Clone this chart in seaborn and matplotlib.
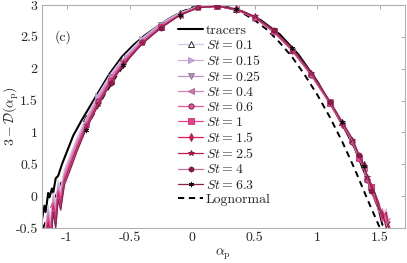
# Multifractal spectrum of particle concentration, panel (c)
import numpy as np
import pandas as pd
import matplotlib
matplotlib.use("Agg")
import matplotlib.pyplot as plt
import seaborn as sns

sns.set_style("white")
plt.rcParams['font.family'] = 'serif'
plt.rcParams['font.serif'] = ['cmr10', 'DejaVu Serif']
plt.rcParams['mathtext.fontset'] = 'cm'
plt.rcParams['axes.unicode_minus'] = False

# Data
tracer_alpha = [-1.20, -1.18, -1.17, -1.15, -1.14, -1.12, -1.11, -1.09, -1.07, -1.04, -1.00, -0.95,
                -0.88, -0.81, -0.74, -0.66, -0.56, -0.47, -0.38, -0.28, -0.18, -0.08, 0.02, 0.12,
                0.25, 0.40, 0.55, 0.70, 0.85, 1.00, 1.12, 1.22, 1.30, 1.36, 1.41, 1.45, 1.49, 1.52]
tracer_D = [-0.37, -0.15, -0.25, 0.05, -0.02, 0.12, 0.05, 0.28, 0.32, 0.50, 0.70, 0.95,
            1.20, 1.43, 1.66, 1.92, 2.19, 2.37, 2.52, 2.66, 2.79, 2.89, 2.96, 2.99,
            2.97, 2.90, 2.76, 2.54, 2.22, 1.80, 1.40, 1.05, 0.75, 0.45, 0.22, 0.00, -0.20, -0.45]

part_alpha = [-1.17, -1.15, -1.13, -1.11, -1.09, -1.07, -1.05, -1.02, -0.98, -0.92, -0.85, -0.75,
              -0.65, -0.55, -0.40, -0.25, -0.10, 0.05, 0.20, 0.35, 0.50, 0.65, 0.80, 0.95,
              1.10, 1.20, 1.28, 1.33, 1.37, 1.40, 1.43, 1.46, 1.49, 1.52, 1.55, 1.58]

D_st01 = [-0.45, -0.15, -0.40, 0.05, -0.10, 0.25, 0.12, 0.42, 0.62, 0.92, 1.22, 1.60,
          1.92, 2.18, 2.48, 2.71, 2.88, 2.98, 2.99, 2.93, 2.80, 2.59, 2.30, 1.93,
          1.50, 1.17, 0.90, 0.66, 0.50, 0.30, 0.18, 0.02, -0.10, -0.28, -0.20, -0.55]
D_st015 = [-0.50, -0.20, -0.45, 0.00, -0.15, 0.20, 0.08, 0.38, 0.58, 0.88, 1.19, 1.57,
           1.90, 2.16, 2.46, 2.70, 2.87, 2.97, 2.99, 2.93, 2.80, 2.58, 2.29, 1.92,
           1.48, 1.15, 0.88, 0.63, 0.48, 0.27, 0.16, -0.02, -0.12, -0.32, -0.25, -0.60]
D_st025 = [-0.55, -0.25, -0.50, -0.05, -0.20, 0.15, 0.02, 0.35, 0.55, 0.85, 1.16, 1.54,
           1.87, 2.14, 2.45, 2.69, 2.86, 2.97, 2.98, 2.93, 2.80, 2.58, 2.29, 1.91,
           1.47, 1.14, 0.86, 0.60, 0.45, 0.22, 0.14, -0.05, -0.18, -0.40, -0.30, -0.55]
D_st04 = [-0.60, -0.30, -0.55, -0.08, -0.28, 0.12, -0.02, 0.32, 0.52, 0.82, 1.14, 1.52,
          1.85, 2.12, 2.43, 2.67, 2.85, 2.97, 2.98, 2.93, 2.80, 2.58, 2.28, 1.90,
          1.46, 1.13, 0.85, 0.62, 0.44, 0.24, 0.10, -0.05, -0.15, -0.38, -0.32, -0.60]
D_st06 = [-0.60, -0.30, -0.58, -0.10, -0.30, 0.10, -0.05, 0.30, 0.50, 0.80, 1.12, 1.50,
          1.83, 2.10, 2.42, 2.66, 2.85, 2.97, 2.98, 2.93, 2.80, 2.58, 2.28, 1.90,
          1.45, 1.12, 0.85, 0.62, 0.45, 0.25, 0.12, -0.05, -0.15, -0.35, -0.30, -0.60]
D_st1 = [-0.65, -0.35, -0.60, -0.12, -0.35, 0.08, -0.08, 0.27, 0.47, 0.78, 1.10, 1.48,
         1.81, 2.09, 2.41, 2.65, 2.84, 2.96, 2.98, 2.93, 2.81, 2.59, 2.29, 1.91,
         1.46, 1.13, 0.86, 0.60, 0.48, 0.22, 0.15, -0.08, -0.12, -0.40, -0.28, -0.55]
D_st15 = [-0.70, -0.40, -0.65, -0.15, -0.38, 0.05, -0.12, 0.25, 0.45, 0.76, 1.08, 1.47,
          1.80, 2.08, 2.40, 2.65, 2.84, 2.96, 2.98, 2.93, 2.81, 2.59, 2.30, 1.92,
          1.47, 1.14, 0.87, 0.63, 0.47, 0.28, 0.10, -0.02, -0.20, -0.30, -0.40, -0.50]
D_st25 = [-0.75, -0.45, -0.70, -0.20, -0.45, 0.00, -0.15, 0.22, 0.42, 0.74, 1.06, 1.45,
          1.79, 2.07, 2.40, 2.64, 2.84, 2.96, 2.98, 2.94, 2.82, 2.60, 2.31, 1.93,
          1.48, 1.15, 0.88, 0.65, 0.50, 0.30, 0.20, 0.05, -0.10, -0.35, -0.25, -0.60]
D_st4 = [-0.80, -0.50, -0.75, -0.22, -0.48, -0.02, -0.20, 0.20, 0.40, 0.72, 1.05, 1.44,
         1.78, 2.06, 2.39, 2.64, 2.84, 2.96, 2.98, 2.94, 2.82, 2.60, 2.31, 1.93,
         1.48, 1.15, 0.87, 0.64, 0.46, 0.30, 0.08, 0.02, -0.25, -0.20, -0.45, -0.35]
D_st63 = [-0.85, -0.55, -0.80, -0.25, -0.50, -0.05, -0.22, 0.18, 0.38, 0.70, 1.04, 1.43,
          1.77, 2.06, 2.39, 2.64, 2.84, 2.96, 2.98, 2.94, 2.82, 2.61, 2.32, 1.94,
          1.49, 1.16, 0.90, 0.66, 0.48, 0.32, 0.14, 0.05, -0.20, -0.25, -0.50, -0.40]

lognormal_alpha = [-1.19, -1.10, -1.00, -0.90, -0.80, -0.70, -0.60, -0.50, -0.40, -0.30, -0.20, -0.10,
                   0.00, 0.15, 0.30, 0.40, 0.50, 0.60, 0.70, 0.80, 0.90, 1.00, 1.10, 1.20,
                   1.30, 1.40, 1.50]
lognormal_D = [-0.50, -0.05, 0.42, 0.85, 1.24, 1.59, 1.90, 2.18, 2.41, 2.61, 2.76, 2.88,
               2.96, 3.00, 2.96, 2.88, 2.76, 2.61, 2.41, 2.18, 1.90, 1.59, 1.24, 0.85,
               0.42, -0.05, -0.50]

st_labels = ['0.1', '0.15', '0.25', '0.4', '0.6', '1', '1.5', '2.5', '4', '6.3']
st_curves = [D_st01, D_st015, D_st025, D_st04, D_st06, D_st1, D_st15, D_st25, D_st4, D_st63]

# Styles: line colour, marker, face colour, edge colour
line_colors = ['#d9c6e6', '#cfaedb', '#bf92c2', '#d783bb', '#e4569f', '#e8468f',
               '#d81d62', '#bd1a52', '#c66f98', '#8e1f4c']
markers = ['^', '>', 'v', '<', 'o', 's', 'd', '*', 'h', (6, 2, 0)]
face_colors = ['#ffffff', '#c9a6d6', '#b68cb8', '#cf78b2', '#e0519c', '#e8438f',
               '#d6175f', '#b8174f', '#8a1b45', '#111111']
edge_colors = ['#111111', '#b48fc4', '#8f6f95', '#b15a95', '#6e1a40', '#c22f75',
               '#b0134f', '#8a1138', '#6a1434', '#111111']
mark_offsets = [0, 1, 2, 0, 1, 2, 0, 1, 2, 0]

fig = plt.figure(figsize=(4.07, 2.63), dpi=100)
ax = fig.add_axes([0.103, 0.133, 0.892, 0.848])

sns.lineplot(x=lognormal_alpha, y=lognormal_D, ax=ax, color='black', lw=1.4,
             linestyle=(0, (3.2, 2.4)), sort=False, estimator=None, zorder=1)
sns.lineplot(x=tracer_alpha, y=tracer_D, ax=ax, color='black', lw=1.5, sort=False,
             estimator=None, zorder=2, label='tracers')

for i in range(len(st_labels)):
    sns.lineplot(x=part_alpha, y=st_curves[i], ax=ax, color=line_colors[i], lw=0.9,
                 marker=markers[i], markersize=3.8, markerfacecolor=face_colors[i],
                 markeredgecolor=edge_colors[i], markeredgewidth=0.6,
                 markevery=slice(mark_offsets[i] + 10, 31, 3),
                 sort=False, estimator=None, zorder=3 + i,
                 label='$St = %s$' % st_labels[i])

# lognormal entry last in the legend
ax.plot([], [], color='black', lw=1.4, linestyle=(0, (3.2, 2.4)), label='Lognormal')

ax.set_xlim(-1.2, 1.7)
ax.set_ylim(-0.5, 3)
xticks = [-1, -0.5, 0, 0.5, 1, 1.5]
yticks = [-0.5, 0, 0.5, 1, 1.5, 2, 2.5, 3]
ax.set_xticks(xticks)
ax.set_xticklabels(['-1', '-0.5', '0', '0.5', '1', '1.5'])
ax.set_yticks(yticks)
ax.set_yticklabels(['-0.5', '0', '0.5', '1', '1.5', '2', '2.5', '3'])
ax.tick_params(direction='in', length=3, width=0.6, top=True, right=True,
               labelsize=10, colors='#9a9a9a', labelcolor='#262626', pad=3)
for s in ax.spines.values():
    s.set_color('#b0b0b0')
    s.set_linewidth(0.8)

ax.set_xlabel(r'$\alpha_\mathrm{p}$', fontsize=10, color='#262626', labelpad=2)
ax.set_ylabel(r'$3-\mathcal{D}(\alpha_\mathrm{p})$', fontsize=10, color='#262626')
ax.yaxis.set_label_coords(-0.058, 0.5)
ax.text(0.035, 0.84, '(c)', transform=ax.transAxes, fontsize=10, color='#262626')

ax.legend(loc='upper left', bbox_to_anchor=(0.375, 0.915), frameon=False, fontsize=10,
          handlelength=1.8, handletextpad=0.2, labelspacing=0.15, borderpad=0,
          borderaxespad=0)

fig.savefig('out.png', dpi=100)
